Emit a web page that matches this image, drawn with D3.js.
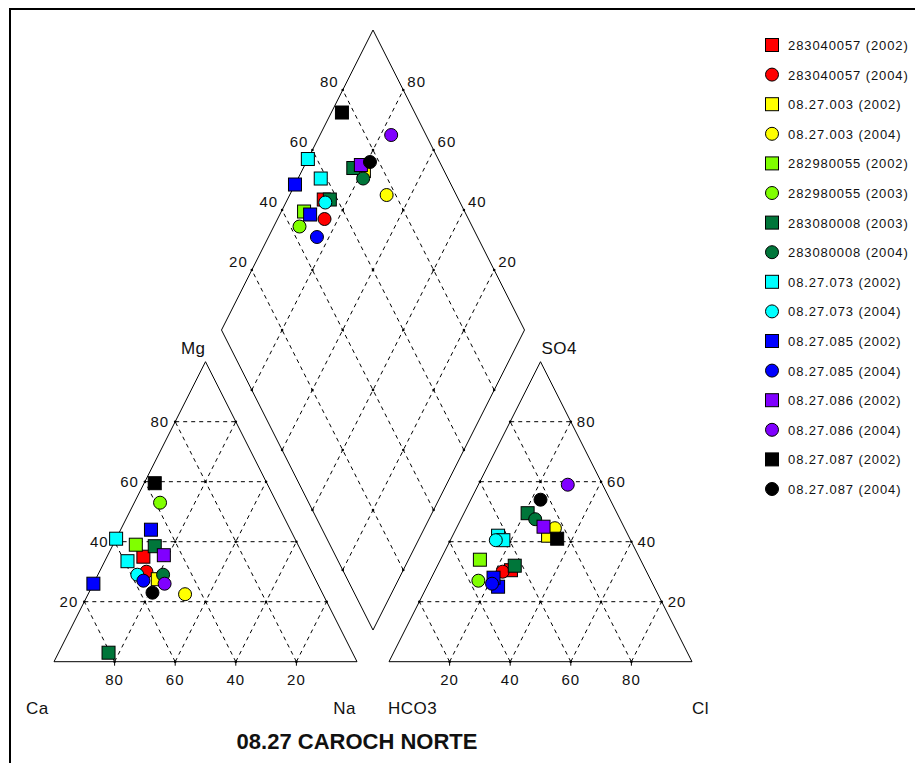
<!DOCTYPE html>
<html>
<head>
<meta charset="utf-8">
<script src="https://cdn.jsdelivr.net/npm/d3@7"></script>
<style>
body {margin: 0; background: white;}
text {font-family: "Liberation Sans", Arial, sans-serif; fill: #111;}
.grid {stroke: #000; stroke-width: 1; stroke-dasharray: 4,4; fill: none;}
.edge {stroke: #000; stroke-width: 1; fill: none;}
.tick {font-size: 15px; letter-spacing: 1px;}
.corner {font-size: 17px; letter-spacing: 0.5px;}
.legend {font-size: 13px; letter-spacing: 0.9px;}
</style>
</head>
<body>
<svg width="915" height="763"></svg>
<script>

// legend entries, one per series
var seriesNames = [
  "283040057 (2002)", "283040057 (2004)",
  "08.27.003 (2002)", "08.27.003 (2004)",
  "282980055 (2002)", "282980055 (2003)",
  "283080008 (2003)", "283080008 (2004)",
  "08.27.073 (2002)", "08.27.073 (2004)",
  "08.27.085 (2002)", "08.27.085 (2004)",
  "08.27.086 (2002)", "08.27.086 (2004)",
  "08.27.087 (2002)", "08.27.087 (2004)"
];

// which series each analysis belongs to
var pointSeries = [0, 1, 2, 3, 4, 5, 6, 6, 7, 8, 8, 9, 10, 10, 11, 12, 13, 14, 15];

// cations (% meq)
var caPct = [53, 54.5, 52, 45.5, 53.5, 38.5, 47.5, 80.5, 49.5, 59, 59, 58, 46, 74, 57, 46, 50.5, 37, 56];
var mgPct = [35, 30, 27.5, 22.5, 39, 53, 38.5, 3, 29, 41, 33.5, 29, 44, 26, 27, 35.5, 26, 59.5, 23];
var naPct = [12, 15.5, 20.5, 32, 7.5, 8.5, 14, 16.5, 21.5, 0, 7.5, 13, 10, 0, 16, 18.5, 23.5, 3.5, 21];

// anions (% meq)
var hco3Pct = [44.5, 47.5, 26.5, 23, 53, 57, 42.5, 29.5, 28, 43, 42, 44.5, 51.5, 51.5, 53, 26.5, 11.5, 24, 23];
var so4Pct  = [30.5, 30, 42, 44.5, 34, 27, 32, 49.5, 47.5, 42, 40.5, 40.5, 25, 28, 26, 45, 59, 41, 54];
var clPct   = [25, 22.5, 31.5, 32.5, 13, 16, 25.5, 21, 24.5, 15, 17.5, 15, 23.5, 20.5, 21, 28.5, 29.5, 35, 23];

var tickValues = [20, 40, 60, 80];
var chartTitle = "08.27 CAROCH NORTE";

// styles per series
var palette = ["#ff0000", "#ff0000", "#ffff00", "#ffff00", "#80ff00", "#80ff00",
               "#00763a", "#00763a", "#00ffff", "#00ffff", "#0000ff", "#0000ff",
               "#8000ff", "#8000ff", "#000000", "#000000"];

var svg = d3.select("svg");

// frame
svg.append("rect")
  .attr("x", 10).attr("y", 9)
  .attr("width", 1000).attr("height", 1000)
  .attr("fill", "none").attr("stroke", "#000").attr("stroke-width", 2);

// geometry
var side = 303, tall = 300, gap = 32, baseY = 661.7, leftX = 54;
var xL = d3.scaleLinear().domain([0, 100]).range([leftX, leftX + side]);
var xR = d3.scaleLinear().domain([0, 100]).range([leftX + side + gap, leftX + 2 * side + gap]);
var yT = d3.scaleLinear().domain([0, 100]).range([baseY, baseY - tall]);

var bx = leftX + side + gap / 2;
var by = baseY - (gap / 2) * (tall / (side / 2));
var xD = d3.scaleLinear().domain([-100, 100]).range([bx - side / 2, bx + side / 2]);
var yD = d3.scaleLinear().domain([0, 200]).range([by, by - 2 * tall]);

function cat(ca, mg, na) { return [xL(na + mg / 2), yT(mg)]; }
function an(hco3, so4, cl) { return [xR(cl + so4 / 2), yT(so4)]; }
// u = Ca+Mg, v = SO4+Cl
function dia(u, v) { return [xD(v - u), yD(u + v)]; }

var line = d3.line();

function seg(p, q) {
  svg.append("path").attr("class", "grid").attr("d", line([p, q]));
}

// grids
tickValues.forEach(function(t) {
  var s = 100 - t;
  seg(cat(s, t, 0), cat(0, t, s));
  seg(cat(s, 0, t), cat(0, s, t));
  seg(cat(t, 0, s), cat(t, s, 0));
  seg(an(s, t, 0), an(0, t, s));
  seg(an(s, 0, t), an(0, s, t));
  seg(an(t, 0, s), an(t, s, 0));
  seg(dia(t, 0), dia(t, 100));
  seg(dia(0, t), dia(100, t));
});

// outlines
svg.append("path").attr("class", "edge").attr("d", line([cat(100, 0, 0), cat(0, 0, 100), cat(0, 100, 0)]) + "Z");
svg.append("path").attr("class", "edge").attr("d", line([an(100, 0, 0), an(0, 0, 100), an(0, 100, 0)]) + "Z");
svg.append("path").attr("class", "edge").attr("d", line([dia(0, 0), dia(0, 100), dia(100, 100), dia(100, 0)]) + "Z");

// little dots at grid crossings
var steps = [0, 20, 40, 60, 80, 100];
var dots = [];
steps.forEach(function(a) {
  steps.forEach(function(b) {
    var c = 100 - a - b;
    if (c >= 0 && a < 100 && b < 100 && c < 100) {
      dots.push(cat(a, b, c));
      dots.push(an(a, b, c));
    }
    if (!((a == 0 || a == 100) && (b == 0 || b == 100))) dots.push(dia(a, b));
  });
});
svg.append("g").selectAll("circle").data(dots).enter().append("circle")
  .attr("cx", function(d) { return d[0]; })
  .attr("cy", function(d) { return d[1]; })
  .attr("r", 1.3).attr("fill", "#000");

// base ticks
tickValues.forEach(function(t) {
  svg.append("line").attr("class", "edge")
    .attr("x1", xL(100 - t)).attr("x2", xL(100 - t))
    .attr("y1", baseY).attr("y2", baseY + 4);
  svg.append("line").attr("class", "edge")
    .attr("x1", xR(t)).attr("x2", xR(t))
    .attr("y1", baseY).attr("y2", baseY + 4);
});

// tick labels
function label(p, txt, anchor, dx, dy, cls) {
  svg.append("text").attr("class", cls || "tick")
    .attr("x", p[0] + dx).attr("y", p[1] + dy)
    .attr("text-anchor", anchor).text(txt);
}
tickValues.forEach(function(t) {
  label(cat(100 - t, t, 0), t, "end", -6, 5);
  label([xL(100 - t), baseY], t, "middle", 0, 23);
  label(an(0, t, 100 - t), t, "start", 6, 5);
  label([xR(t), baseY], t, "middle", 0, 23);
  label(dia(100, t), t, "end", -4, -3);
  label(dia(t, 100), t, "start", 4, -3);
});

// corner names
label([26, 714], "Ca", "start", 0, 0, "corner");
label([356, 714], "Na", "end", 0, 0, "corner");
label([388, 714], "HCO3", "start", 0, 0, "corner");
label([692, 714], "Cl", "start", 0, 0, "corner");
label([xL(50), 354], "Mg", "end", 0, 0, "corner");
label([xR(50), 354], "SO4", "start", 1, 0, "corner");

// title
svg.append("text")
  .attr("x", 357).attr("y", 749)
  .attr("text-anchor", "middle")
  .style("font-size", "22px").style("font-weight", "bold")
  .text(chartTitle);

// markers
function drawMarker(g, p, s) {
  if (s % 2 == 0) {
    g.append("rect")
      .attr("x", p[0] - 6.5).attr("y", p[1] - 6.5)
      .attr("width", 13).attr("height", 13)
      .attr("fill", palette[s]).attr("stroke", "#000").attr("stroke-width", 1);
  } else {
    g.append("circle")
      .attr("cx", p[0]).attr("cy", p[1]).attr("r", 6.5)
      .attr("fill", palette[s]).attr("stroke", "#000").attr("stroke-width", 1);
  }
}

var gPts = svg.append("g");
pointSeries.forEach(function(s, i) {
  drawMarker(gPts, cat(caPct[i], mgPct[i], naPct[i]), s);
});
pointSeries.forEach(function(s, i) {
  drawMarker(gPts, an(hco3Pct[i], so4Pct[i], clPct[i]), s);
});
pointSeries.forEach(function(s, i) {
  drawMarker(gPts, dia(caPct[i] + mgPct[i], so4Pct[i] + clPct[i]), s);
});

// legend
var legendY = d3.scaleLinear().domain([0, 15]).range([45, 489]);
var gLeg = svg.append("g");
seriesNames.forEach(function(name, i) {
  drawMarker(gLeg, [772, legendY(i)], i);
  gLeg.append("text").attr("class", "legend")
    .attr("x", 788).attr("y", legendY(i) + 5)
    .text(name);
});

</script>
</body>
</html>
